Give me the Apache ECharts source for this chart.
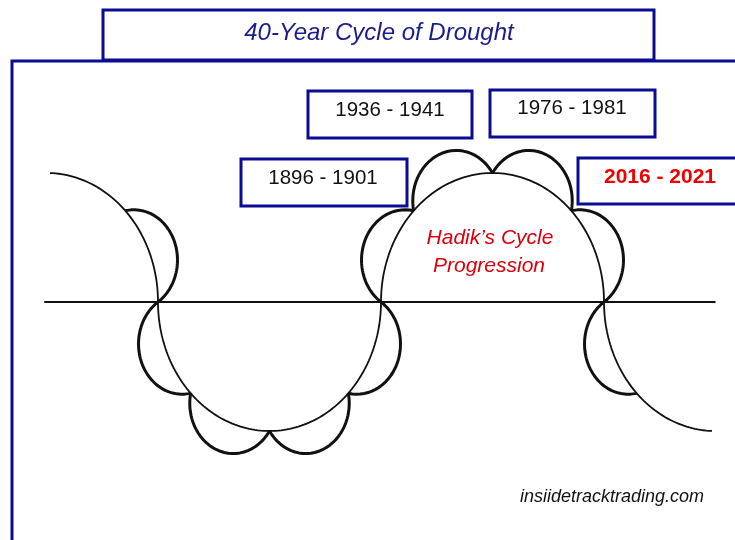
<!DOCTYPE html>
<html>
<head>
<meta charset="utf-8">
<script src="https://cdn.jsdelivr.net/npm/echarts@6/dist/echarts.min.js"></script>
<style>
  html, body { margin: 0; padding: 0; background: #fff; }
  #chart { width: 735px; height: 540px; }
</style>
</head>
<body>
<div id="chart"></div>
<script>
// arches of the cycle, measured in half-widths (the line is crossed at 0, 2 and 4)
const archCenters = [-1, 1, 3, 5];
const archSides = [1, -1, 1, -1];          // 1 = above the line, -1 = below
const archStart = [0.51, 0, 0, 0];         // drawn part of each half-ellipse (0..1, left to right)
const archEnd = [1, 1, 1, 0.49];
const archLobes = [[3], [0, 1, 2, 3], [0, 1, 2, 3], [0]];   // quarters carrying a small cycle
const archHeight = 1.157;
const baselineSpan = [-1.02, 5.0];

const titleText = '40-Year Cycle of Drought';
const periodLabels = ['1896 - 1901', '1936 - 1941', '1976 - 1981', '2016 - 2021'];
const centerText = ['Hadik\u2019s Cycle', 'Progression'];
const sourceText = 'insiidetracktrading.com';

document.addEventListener('DOMContentLoaded', function() {
  // page layout (pixels)
  const unitPx = 111.5, originX = 158, originY = 302;
  const W = 735, H = 540;
  const navy = '#0b0b94';
  const fontName = 'Arial, "Liberation Sans", Helvetica, sans-serif';

  // point on the arch as a unit circle (before vertical stretch)
  function circlePoint(i, s) {
    const a = Math.PI * s;
    return [archCenters[i] - Math.cos(a), archSides[i] * Math.sin(a)];
  }
  function stretch(p) {
    return [p[0], p[1] * archHeight];
  }

  function archCurve(i) {
    const pts = [];
    const n = 120;
    for (let j = 0; j <= n; j++) {
      const s = archStart[i] + (archEnd[i] - archStart[i]) * j / n;
      pts.push(stretch(circlePoint(i, s)));
    }
    return pts;
  }

  // small cycle: arc bulging outward over one quarter of the arch
  function lobeCurve(i, k) {
    const p0 = circlePoint(i, k / 4), p1 = circlePoint(i, (k + 1) / 4);
    const mx = (p0[0] + p1[0]) / 2, my = (p0[1] + p1[1]) / 2;
    const dx = p1[0] - p0[0], dy = p1[1] - p0[1];
    const half = Math.hypot(dx, dy) / 2;
    let nx = -dy / (2 * half), ny = dx / (2 * half);
    if ((mx - archCenters[i]) * nx + my * ny < 0) { nx = -nx; ny = -ny; }
    const alpha = 79 * Math.PI / 180;
    const r = half / Math.sin(alpha);
    const h = r * Math.cos(alpha);
    const ox = mx - nx * h, oy = my - ny * h;
    const th = Math.atan2(ny, nx);
    const pts = [];
    const n = 60;
    for (let j = 0; j <= n; j++) {
      const t = th - alpha + 2 * alpha * j / n;
      pts.push(stretch([ox + r * Math.cos(t), oy + r * Math.sin(t)]));
    }
    return pts;
  }

  const series = [];
  series.push({
    type: 'line', data: [[baselineSpan[0], 0], [baselineSpan[1], 0]],
    showSymbol: false, silent: true, lineStyle: { color: '#111', width: 2 }
  });
  archCenters.forEach(function(c, i) {
    series.push({
      type: 'line', data: archCurve(i), showSymbol: false, silent: true,
      lineStyle: { color: '#111', width: 1.8 }
    });
    archLobes[i].forEach(function(k) {
      series.push({
        type: 'line', data: lobeCurve(i, k), showSymbol: false, silent: true,
        lineStyle: { color: '#111', width: 3 }
      });
    });
  });

  const boxes = [[241, 159, 166, 47], [308, 91, 164, 47], [490, 90, 165, 47], [578, 158, 170, 46]];
  const boxText = [[323, 178], [390, 110], [572, 108], [660, 177]];

  function label(x, y, text, size, style, weight, color) {
    return { type: 'text', x: x, y: y, z: 3,
      style: { text: text, align: 'center', verticalAlign: 'middle',
               fontFamily: fontName, fontSize: size, fontStyle: style,
               fontWeight: weight, fill: color } };
  }

  const graphic = [
    { type: 'polyline', shape: { points: [[12, H], [12, 61], [W, 61]] },
      style: { stroke: navy, lineWidth: 3, fill: null }, z: 0 },
    { type: 'rect', shape: { x: 103, y: 10, width: 551, height: 50 },
      style: { stroke: navy, lineWidth: 3, fill: '#fff' }, z: 1 },
    label(379, 33, titleText, 24, 'italic', 'normal', '#1c1c8c')
  ];
  periodLabels.forEach(function(text, i) {
    const b = boxes[i];
    const last = i === periodLabels.length - 1;
    graphic.push({ type: 'rect', shape: { x: b[0], y: b[1], width: b[2], height: b[3] },
      style: { stroke: navy, lineWidth: 3, fill: '#fff' }, z: 1 });
    graphic.push(label(boxText[i][0], boxText[i][1], text, last ? 21 : 20.5, 'normal',
      last ? 'bold' : 'normal', last ? '#f00000' : '#111'));
  });
  graphic.push(label(490, 238, centerText[0], 21, 'italic', 'normal', '#d8000c'));
  graphic.push(label(489, 266, centerText[1], 21, 'italic', 'normal', '#d8000c'));
  graphic.push(label(612, 497, sourceText, 18, 'italic', 'normal', '#111'));

  const myChart = echarts.init(document.getElementById('chart'));
  myChart.setOption({
    animation: false,
    backgroundColor: '#fff',
    grid: { left: 0, right: 0, top: 0, bottom: 0 },
    xAxis: { type: 'value', min: -originX / unitPx, max: (W - originX) / unitPx, show: false },
    yAxis: { type: 'value', min: -(H - originY) / unitPx, max: originY / unitPx, show: false },
    graphic: graphic,
    series: series
  });
});
</script>
</body>
</html>
